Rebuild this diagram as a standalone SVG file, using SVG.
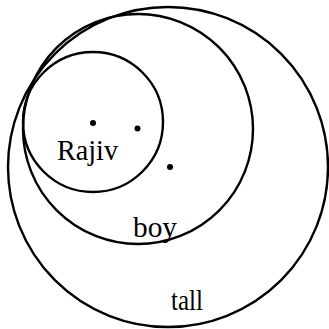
<svg xmlns="http://www.w3.org/2000/svg" width="329" height="329" viewBox="0 0 329 329">
<style>
.c{fill:none;stroke:#000;stroke-width:2.4}
.d{fill:#000}
.t{font-family:"Liberation Serif",serif;font-size:30px;fill:#000}
</style>
<rect width="329" height="329" fill="#fff"/>
<g id="tall"><circle class="c" cx="168" cy="167" r="160"/><circle class="d" cx="170" cy="167" r="3"/><text class="t" x="171" y="310" textLength="32" lengthAdjust="spacingAndGlyphs">tall</text></g>
<g id="boy"><circle class="c" cx="138" cy="129" r="115"/><circle class="d" cx="137.5" cy="128.5" r="3"/><text class="t" x="133" y="237" textLength="44" lengthAdjust="spacingAndGlyphs">boy</text></g>
<g id="rajiv"><circle class="c" cx="93" cy="122" r="70"/><circle class="d" cx="93" cy="123" r="3"/><text class="t" x="57" y="160" textLength="61" lengthAdjust="spacingAndGlyphs">Rajiv</text></g>
<g id="connectors"/>
</svg>
